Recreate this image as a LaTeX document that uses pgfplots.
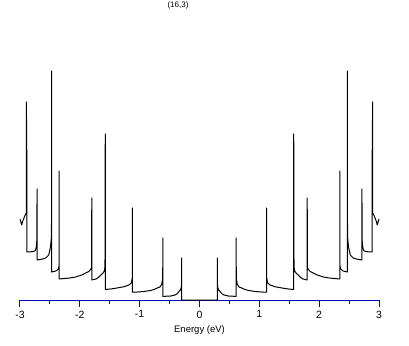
\documentclass[border=0pt]{standalone}
\usepackage{fontspec}
\setmainfont{Liberation Sans}
\usepackage{pgfplots}
\pgfplotsset{compat=1.18}
\usepackage{pgfplotstable}
\definecolor{axisblue}{RGB}{0,0,204}
\pgfplotstableread{
E h
0 0
0.298 0
0.298 42
0.301 13.3
0.32 10
0.345 8.3
0.37 6.5
0.40 5.2
0.48 4
0.612 3.6
0.612 62
0.615 22
0.63 16
0.66 13
0.705 12
0.76 10.5
0.82 9.5
0.93 8.5
1.04 8
1.12 7.8
1.12 92
1.123 22
1.14 17
1.18 15
1.26 13.3
1.38 12
1.485 11
1.575 10.5
1.575 166
1.577 70
1.58 33
1.59 29
1.62 26.5
1.65 25
1.69 22.5
1.73 21
1.80 20
1.80 102
1.805 32
1.82 30.5
1.85 28.5
1.90 27
1.97 25
2.07 23
2.17 22
2.345 21
2.345 129
2.348 34
2.36 31
2.40 29
2.47 28
2.47 229
2.472 90
2.475 63
2.49 53
2.52 45
2.57 42
2.62 41
2.715 40
2.715 111
2.718 60
2.73 52
2.75 49
2.80 48.3
2.885 48
2.885 150
2.888 95
2.892 198
2.895 87
2.92 84
2.94 81
2.96 78
2.97 75
2.985 78
3.0 81
}\dos
\begin{document}
\begin{tikzpicture}[x=1pt,y=1pt]
\path[use as bounding box] (0,0) rectangle (409,345);
\begin{axis}[
  at={(20pt,45pt)}, anchor=south west,
  scale only axis, width=359pt, height=260pt,
  xmin=-3, xmax=3, ymin=0, ymax=260,
  axis y line=none, axis x line=bottom,
  x axis line style={-, axisblue, line width=1pt},
  xtick={-3,-2,-1,0,1,2,3},
  xticklabels={-3,-2,-1,0,1,2,3},
  minor xtick={-2.5,-1.5,-0.5,0.5,1.5,2.5},
  xtick align=outside,
  major tick length=6.7pt, minor tick length=4pt,
  tick style={axisblue, line width=1pt},
  xticklabel style={font=\fontsize{10.5}{12}\selectfont, text=black, yshift=-0.5pt},
  xlabel={Energy (eV)},
  xlabel style={font=\fontsize{9.5}{11}\selectfont, yshift=-1pt},
  clip=false,
]
\addplot[black, line width=1pt, line join=round, no marks] table[x=E, y=h] {\dos};
\addplot[black, line width=1pt, line join=round, no marks] table[x expr=-\thisrow{E}, y=h] {\dos};
\end{axis}
\node[font=\fontsize{8}{9}\selectfont] at (178,339.5) {(16,3)};
\end{tikzpicture}
\end{document}
